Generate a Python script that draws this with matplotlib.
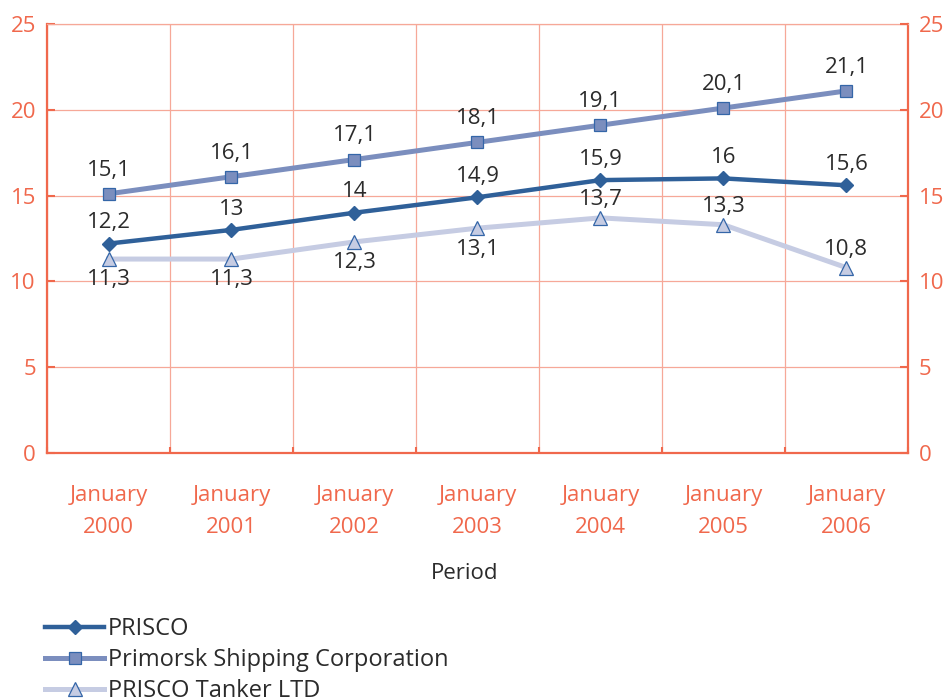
import matplotlib
matplotlib.use("Agg")
import matplotlib.pyplot as plt
from matplotlib.ticker import MultipleLocator, FixedLocator

plt.rcParams["font.family"] = ["Open Sans", "DejaVu Sans"]

# ---- data -------------------------------------------------------------------
periods = ["January\n2000", "January\n2001", "January\n2002", "January\n2003",
           "January\n2004", "January\n2005", "January\n2006"]
prisco = [12.2, 13.0, 14.0, 14.9, 15.9, 16.0, 15.6]
primorsk = [15.1, 16.1, 17.1, 18.1, 19.1, 20.1, 21.1]
tanker = [11.3, 11.3, 12.3, 13.1, 13.7, 13.3, 10.8]
# label placement for the tanker series: below for the first four points
tanker_below = [True, True, True, True, False, False, False]

AXIS = "#F0684C"
GRID = "#F6A898"
INK = "#2B2B2B"
C_PRISCO = "#2F6099"
C_PRIM = "#7B8EBE"
C_TANK = "#C6CCE3"
EDGE = "#3466A8"

fig = plt.figure(figsize=(9.46, 6.99), dpi=100)
ax = fig.add_axes([0.0497, 0.352, 0.910, 0.6137])

x = list(range(len(periods)))

ax.plot(x, tanker, color=C_TANK, lw=3.6, marker="^", ms=10,
        mfc=C_TANK, mec=EDGE, mew=0.9, label="PRISCO Tanker LTD", zorder=3)
ax.plot(x, primorsk, color=C_PRIM, lw=3.6, marker="s", ms=8.5,
        mfc=C_PRIM, mec=EDGE, mew=0.9, label="Primorsk Shipping Corporation",
        zorder=4)
ax.plot(x, prisco, color=C_PRISCO, lw=3.2, marker="D", ms=7.5,
        mfc=C_PRISCO, mec=C_PRISCO, label="PRISCO", zorder=5)


def fmt(v):
    s = f"{v:.1f}".rstrip("0").rstrip(".")
    return s.replace(".", ",")


for xi, v in zip(x, prisco):
    ax.annotate(fmt(v), (xi, v), xytext=(0, 15), textcoords="offset points",
                ha="center", va="center", fontsize=16, color=INK, zorder=6)
for xi, v in zip(x, primorsk):
    ax.annotate(fmt(v), (xi, v), xytext=(0, 17), textcoords="offset points",
                ha="center", va="center", fontsize=16, color=INK, zorder=6)
for xi, v, below in zip(x, tanker, tanker_below):
    dy = -15 if below else 13
    ax.annotate(fmt(v), (xi, v), xytext=(0, dy), textcoords="offset points",
                ha="center", va="center", fontsize=16, color=INK, zorder=6)

ax.set_xlim(-0.5, len(periods) - 0.5)
ax.set_ylim(0, 25)
ax.yaxis.set_major_locator(MultipleLocator(5))
ax.set_xticks(x)
ax.set_xticklabels(periods, color=AXIS, fontsize=16, linespacing=1.7)
ax.xaxis.set_minor_locator(FixedLocator([i - 0.5 for i in range(len(periods) + 1)]))
ax.tick_params(axis="x", which="major", length=0, pad=23)
ax.tick_params(axis="x", which="minor", direction="in", length=4, color=AXIS,
               width=1.5)
ax.tick_params(axis="y", direction="in", length=6, color=AXIS, width=1.5,
               labelcolor=AXIS, labelsize=16, pad=8)
ax.grid(True, which="major", axis="y", color=GRID, lw=0.9)
ax.grid(True, which="minor", axis="x", color=GRID, lw=0.9)
ax.set_axisbelow(True)

for side in ("left", "bottom", "right"):
    ax.spines[side].set_color(AXIS)
    ax.spines[side].set_linewidth(1.6)
ax.spines["top"].set_color(GRID)
ax.spines["top"].set_linewidth(0.9)

ax2 = ax.twinx()
ax2.set_ylim(0, 25)
ax2.yaxis.set_major_locator(MultipleLocator(5))
ax2.tick_params(axis="y", direction="in", length=6, color=AXIS, width=1.5,
                labelcolor=AXIS, labelsize=16, pad=8)
for s in ax2.spines.values():
    s.set_visible(False)

fig.text(0.4915, 0.180, "Period", ha="center", va="center", fontsize=16,
         color=INK)

h, l = ax.get_legend_handles_labels()
order = [2, 1, 0]
fig.legend([h[i] for i in order], [l[i] for i in order], loc="upper left",
           bbox_to_anchor=(0.048, 0.117), frameon=False, fontsize=17,
           handlelength=2.5, handletextpad=0.15, labelspacing=0.3,
           borderpad=0, borderaxespad=0, labelcolor=INK)

fig.savefig("out.png", dpi=100)
